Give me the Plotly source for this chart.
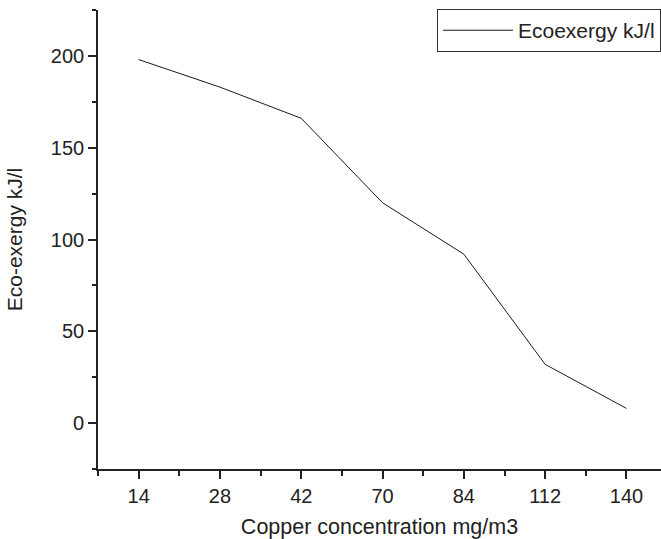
import plotly.graph_objects as go

categories = ["14", "28", "42", "70", "84", "112", "140"]
ecoexergy = [198, 183, 166, 120, 92, 32, 8]
y_ticks = [0, 50, 100, 150, 200]

positions = list(range(len(categories)))

fig = go.Figure()
fig.add_trace(go.Scatter(
    x=positions, y=ecoexergy, mode="lines", name="Ecoexergy kJ/l",
    line=dict(color="#1a1a1a", width=1),
))

font_family = "Liberation Sans, Arial, sans-serif"
fig.update_layout(
    width=661, height=539,
    margin=dict(l=98, r=0, t=10, b=70),
    paper_bgcolor="white", plot_bgcolor="white",
    font=dict(family=font_family, size=20, color="#222222"),
    showlegend=True,
    legend=dict(x=1, y=1.002, xanchor="right", yanchor="top",
                bgcolor="white", bordercolor="#333333", borderwidth=1,
                font=dict(size=21), itemwidth=70,
                tracegroupgap=0),
    xaxis=dict(
        range=[-0.5, 6.425], tickvals=positions, ticktext=categories,
        showgrid=False, zeroline=False, showline=True, linecolor="#222222", linewidth=1.7,
        ticks="outside", ticklen=8, tickwidth=1.5, tickcolor="#222222",
        minor=dict(tickvals=[p - 0.5 for p in positions] + [6.5], ticks="outside", ticklen=5, tickwidth=1.5, tickcolor="#222222"),
        title=dict(text="Copper concentration mg/m3", font=dict(size=21.5), standoff=13),
        tickfont=dict(size=20),
    ),
    yaxis=dict(
        range=[-25, 225], tickvals=y_ticks,
        showgrid=False, zeroline=False, showline=True, linecolor="#222222", linewidth=1.7,
        ticks="outside", ticklen=8, tickwidth=1.5, tickcolor="#222222",
        minor=dict(dtick=25, tick0=-25, ticks="outside", ticklen=4, tickwidth=1.5, tickcolor="#222222"),
        title=dict(text="Eco-exergy kJ/l", font=dict(size=21), standoff=22),
        tickfont=dict(size=20),
    ),
)

fig.write_html("out.html")
